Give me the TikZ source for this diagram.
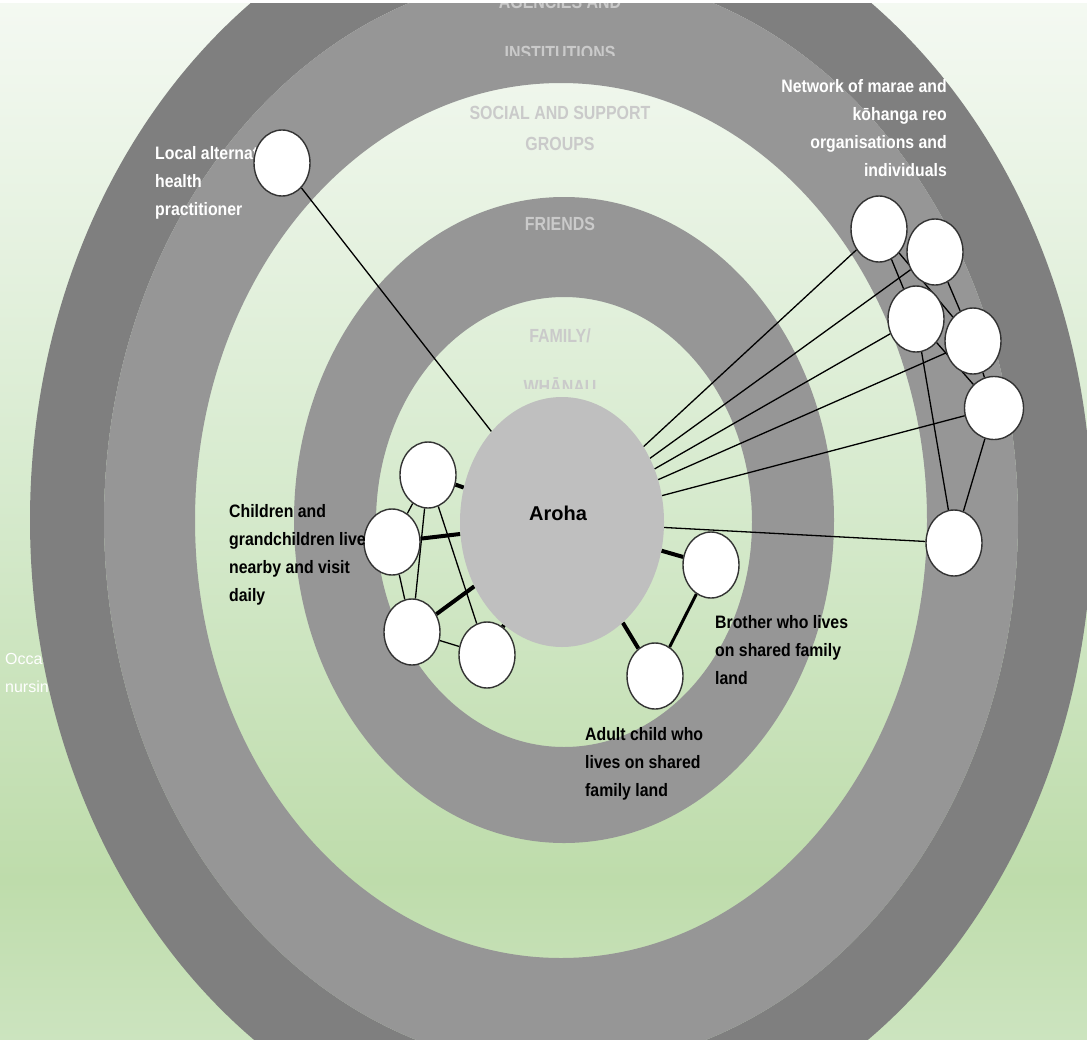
\documentclass[tikz,border=0pt]{standalone}
\usepackage{fontspec}
\setmainfont{Liberation Sans}
\newfontfamily\labfont[FakeStretch=0.88]{Liberation Sans}
\newfontfamily\ringfont[FakeStretch=0.84]{Liberation Sans}
\usetikzlibrary{shapes.geometric}
\definecolor{bgtop}{HTML}{F4F9F2}
\definecolor{bgmid}{HTML}{D6EACD}
\definecolor{bgdeep}{HTML}{BEDCAB}
\definecolor{bgbot}{HTML}{CCE4BF}
\definecolor{ringdark}{HTML}{7F7F7F}
\definecolor{ringmid}{HTML}{969696}
\definecolor{arohagray}{HTML}{BFBFBF}
\definecolor{ringtext}{HTML}{CACACA}
\definecolor{nodeedge}{HTML}{333333}
\pgfdeclareverticalshading{bgshade}{100bp}{color(0bp)=(bgbot); color(25bp)=(bgbot); color(32.65bp)=(bgdeep); color(50.94bp)=(bgmid); color(75bp)=(bgtop); color(100bp)=(bgtop)}
\pgfdeclarelayer{back}
\pgfdeclarelayer{edges}
\pgfsetlayers{back,edges,main}
\begin{document}
\begin{tikzpicture}[x=1pt,y=-1pt,
  person/.style={ellipse, draw=nodeedge, line width=1.4pt, fill=white, minimum width=56pt, minimum height=66pt, inner sep=0pt},
  thinlink/.style={draw=black, line width=1.3pt},
  thicklink/.style={draw=black, line width=4pt},
  ringlab/.style={font=\ringfont\bfseries\fontsize{19}{24}\selectfont, text=ringtext, inner sep=0pt, anchor=base},
  lab/.style={font=\labfont\bfseries\fontsize{18}{28}\selectfont, inner sep=0pt, anchor=north west, align=left},
  whitelab/.style={lab, text=white},
  blacklab/.style={lab, text=black}]
\useasboundingbox (0,0) rectangle (1087,1039);
\clip (0,0) rectangle (1087,1039);
\begin{pgfonlayer}{back}
  \shade[shading=bgshade] (0,0) rectangle (1087,1039);
  \node[font=\fontsize{16}{28}\selectfont, text=white, inner sep=0pt, anchor=north west, align=left] (occ) at (5,653) {Occasional\\nursing};
  \fill[ringdark, even odd rule] (561,520) ellipse [x radius=531pt, y radius=637pt]
                                 (561,520) ellipse [x radius=457pt, y radius=548pt];
  \fill[ringmid, even odd rule] (561,520) ellipse [x radius=457pt, y radius=548pt]
                                (561,520.5) ellipse [x radius=366pt, y radius=437.5pt];
  \fill[ringmid, even odd rule] (564,520) ellipse [x radius=270pt, y radius=323pt]
                                (564,522) ellipse [x radius=188pt, y radius=225pt];
  \node[ringlab] (agencies) at (560,8) {AGENCIES AND};
  \begin{scope}
    \clip (400,0) rectangle (720,55);
    \node[ringlab] (institutions) at (560,59) {INSTITUTIONS};
  \end{scope}
  \node[ringlab] (social) at (560,119) {SOCIAL AND SUPPORT};
  \node[ringlab] (groups) at (560,150) {GROUPS};
  \node[ringlab] (friends) at (560,230) {FRIENDS};
  \node[ringlab] (family) at (560,342) {FAMILY/};
  \begin{scope}
    \clip (480,360) rectangle (640,388);
    \node[ringlab] (whanau) at (560,393) {WHĀNAU};
  \end{scope}
  \node[whitelab] (loclab) at (155,146) {Local alternative\\health\\practitioner};
  \node[whitelab, anchor=north east, align=right] (netlab) at (947,79) {Network of marae and\\kōhanga reo\\organisations and\\individuals};
  \fill[white] (0,0) rectangle (1087,3);
\end{pgfonlayer}

\node[ellipse, fill=arohagray, draw=none, minimum width=204pt, minimum height=250pt, inner sep=0pt] (aroha) at (562,522) {};
\node[font=\bfseries\fontsize{20}{25}\selectfont, inner sep=0pt] (arohatext) at (558,513) {Aroha};

\node[person] (loc) at (282,163) {};
\node[person] (n1) at (879,229) {};
\node[person] (n2) at (935,252) {};
\node[person] (n3) at (916,319) {};
\node[person] (n4) at (973,341) {};
\node[person, minimum width=59pt, minimum height=63pt] (n5) at (994,408) {};
\node[person] (n6) at (954,543) {};
\node[person] (c1) at (428,475) {};
\node[person] (c2) at (392,542) {};
\node[person] (c3) at (412,632) {};
\node[person] (c4) at (487,655) {};
\node[person] (b1) at (711,565) {};
\node[person] (b2) at (655,676) {};

\begin{pgfonlayer}{edges}
  \draw[thinlink] (aroha) -- (loc);
  \foreach \t in {n1,n2,n3,n4,n5,n6} \draw[thinlink] (aroha) -- (\t);
  \draw[thinlink] (n1) -- (n3);
  \draw[thinlink] (n1) -- (n4);
  \draw[thinlink] (n2) -- (n4);
  \draw[thinlink] (n3) -- (n5);
  \draw[thinlink] (n3) -- (n6);
  \draw[thinlink] (n4) -- (n5);
  \draw[thinlink] (n5) -- (n6);
  \draw[thinlink] (c1) -- (c2);
  \draw[thinlink] (c1) -- (c3);
  \draw[thinlink] (c1) -- (c4);
  \draw[thinlink] (c2) -- (c3);
  \draw[thinlink] (c3) -- (c4);
  \foreach \t in {c1,c2,c3,c4,b1,b2} \draw[thicklink] (aroha) -- (\t);
  \draw[draw=black, line width=3pt] (b1) -- (b2);
\end{pgfonlayer}

\node[blacklab] (childlab) at (229,504) {Children and\\grandchildren live\\nearby and visit\\daily};
\node[blacklab] (brolab) at (715,615) {Brother who lives\\on shared family\\land};
\node[blacklab] (adultlab) at (585,727) {Adult child who\\lives on shared\\family land};
\end{tikzpicture}
\end{document}
